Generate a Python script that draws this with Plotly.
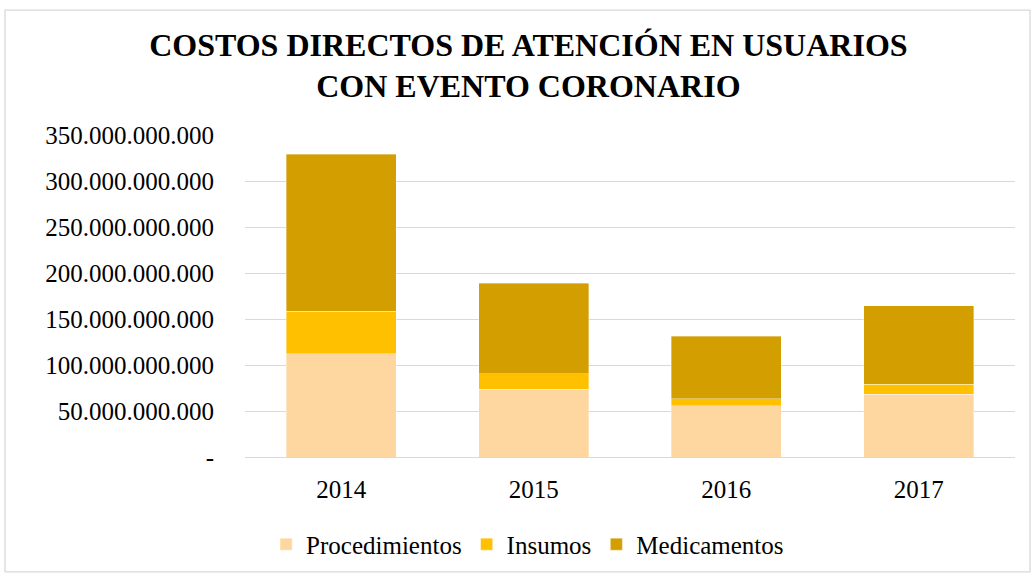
import plotly.graph_objects as go

years = ["2014", "2015", "2016", "2017"]
procedimientos = [112e9, 73.5e9, 55.6e9, 68.1e9]
insumos = [46.3e9, 16.9e9, 7.9e9, 11.2e9]
medicamentos = [171e9, 98.6e9, 67.5e9, 85.3e9]

tick_vals = [0, 50e9, 100e9, 150e9, 200e9, 250e9, 300e9, 350e9]
tick_text = ["-", "50.000.000.000", "100.000.000.000", "150.000.000.000",
             "200.000.000.000", "250.000.000.000", "300.000.000.000", "350.000.000.000"]

colors = {"Procedimientos": "#FED69F", "Insumos": "#FFC000", "Medicamentos": "#D29E00"}
font_family = "Liberation Serif, Times New Roman, serif"

fig = go.Figure()
for name, vals in [("Procedimientos", procedimientos), ("Insumos", insumos), ("Medicamentos", medicamentos)]:
    fig.add_trace(go.Bar(x=years, y=vals, name=name,
                         marker=dict(color=colors[name], line=dict(width=0.6, color="rgba(255,255,255,0.6)"))))

fig.update_layout(
    barmode="stack",
    bargap=0.43,
    width=1036, height=580,
    margin=dict(l=245, r=21, t=135, b=120),
    paper_bgcolor="white", plot_bgcolor="white",
    font=dict(family=font_family, color="#000000", size=25),
    title=dict(text="<b>COSTOS DIRECTOS DE ATENCIÓN EN USUARIOS<br>CON EVENTO CORONARIO</b>",
               x=0.51, xref="container", xanchor="center",
               y=0.904, yref="container", yanchor="top",
               font=dict(size=32, family=font_family, color="#000000")),
    legend=dict(orientation="h", x=0.367, xref="paper", xanchor="center",
                y=-0.2, yanchor="top", font=dict(size=25), traceorder="normal",
                itemwidth=30),
    showlegend=True,
)
fig.update_yaxes(range=[0, 350e9], tickvals=tick_vals, ticktext=tick_text,
                 showgrid=True, gridcolor="#D9D9D9", gridwidth=1.3,
                 zeroline=False, showline=False, ticks="", ticklabelstandoff=30,
                 tickfont=dict(size=25))
fig.update_xaxes(showline=True, linecolor="#D9D9D9", linewidth=1.3, ticks="",
                 tickfont=dict(size=25), ticklabelstandoff=10)

fig.add_shape(type="rect", xref="paper", yref="paper",
              x0=(5 - 245) / 770, x1=(1030 - 245) / 770,
              y0=(460 - 576) / 325, y1=(460 - 9) / 325,
              line=dict(color="#D9D9D9", width=1.3), fillcolor="rgba(0,0,0,0)", layer="below")

fig.write_html("out.html", config={"displayModeBar": False},
               post_script="document.body.style.margin='0';document.body.style.overflow='hidden';")
